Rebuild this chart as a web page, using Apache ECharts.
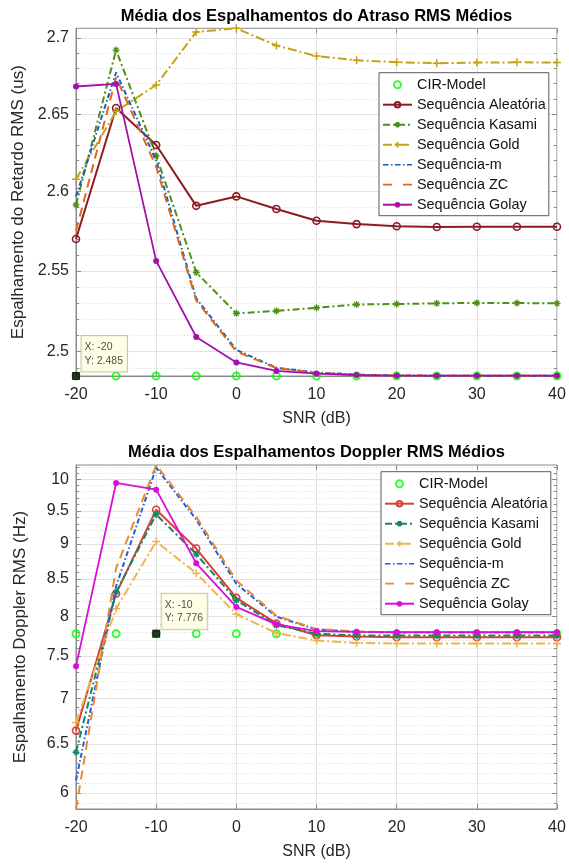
<!DOCTYPE html>
<html>
<head>
<meta charset="utf-8">
<script src="https://cdn.jsdelivr.net/npm/echarts@6/dist/echarts.min.js"></script>
<style>
  html, body { margin: 0; padding: 0; background: #fff; }
  #top { width: 569px; height: 432px; }
  #bottom { width: 569px; height: 433px; }
</style>
</head>
<body>
<div id="top"></div>
<div id="bottom"></div>
<script>
// SNR points shared by both panels
const snr = [-20, -15, -10, -5, 0, 5, 10, 15, 20, 25, 30, 35, 40];
const xTicks = [-20, -10, 0, 10, 20, 30, 40];

const seriesNames = ['CIR-Model', 'Sequência Aleatória', 'Sequência Kasami', 'Sequência Gold',
                     'Sequência-m', 'Sequência ZC', 'Sequência Golay'];

// Mean RMS delay spread (us)
const delayCir     = [2.485, 2.485, 2.485, 2.485, 2.485, 2.485, 2.485, 2.485, 2.485, 2.485, 2.485, 2.485, 2.485];
const delayAleat   = [2.570, 2.654, 2.630, 2.591, 2.597, 2.589, 2.5815, 2.5794, 2.578, 2.5776, 2.5777, 2.5777, 2.5777];
const delayKasami  = [2.5916, 2.692, 2.623, 2.549, 2.5235, 2.525, 2.527, 2.529, 2.5293, 2.5297, 2.530, 2.5299, 2.5297];
const delayGold    = [2.608, 2.6518, 2.669, 2.704, 2.7064, 2.695, 2.688, 2.6852, 2.684, 2.6833, 2.6837, 2.6839, 2.6837];
const delayM       = [2.597, 2.6772, 2.620, 2.5328, 2.501, 2.490, 2.4872, 2.4858, 2.4853, 2.4852, 2.4852, 2.4852, 2.4852];
const delayZC      = [2.575, 2.674, 2.616, 2.5315, 2.500, 2.4898, 2.487, 2.4856, 2.4852, 2.4852, 2.4852, 2.4852, 2.4852];
const delayGolay   = [2.668, 2.6697, 2.5562, 2.5089, 2.4933, 2.4881, 2.4865, 2.4856, 2.4852, 2.4852, 2.4852, 2.4852, 2.4852];
const delayTicks   = [2.5, 2.55, 2.6, 2.65, 2.7];

// Mean RMS Doppler spread (Hz)
const dopCir       = [7.776, 7.776, 7.776, 7.776, 7.776, 7.776, 7.776, 7.776, 7.776, 7.776, 7.776, 7.776, 7.776];
const dopAleat     = [6.641, 8.30, 9.515, 8.933, 8.243, 7.907, 7.757, 7.740, 7.732, 7.732, 7.732, 7.732, 7.732];
const dopKasami    = [6.411, 8.32, 9.443, 8.852, 8.211, 7.886, 7.776, 7.755, 7.752, 7.752, 7.752, 7.752, 7.752];
const dopGold      = [6.730, 8.10, 9.036, 8.581, 8.028, 7.784, 7.690, 7.660, 7.652, 7.652, 7.652, 7.652, 7.652];
const dopM         = [6.125, 8.40, 10.19, 9.367, 8.435, 7.994, 7.830, 7.800, 7.792, 7.792, 7.792, 7.792, 7.792];
const dopZC        = [5.845, 8.65, 10.235, 9.408, 8.480, 8.007, 7.835, 7.805, 7.795, 7.795, 7.795, 7.795, 7.795];
const dopGolay     = [7.376, 9.94, 9.832, 8.721, 8.123, 7.896, 7.810, 7.800, 7.795, 7.795, 7.795, 7.795, 7.795];
const dopTicks     = [6, 6.5, 7, 7.5, 8, 8.5, 9, 9.5, 10];

const FONT = '"Liberation Sans", Arial, Helvetica, sans-serif';
const AXIS_COLOR = '#8a8a8a';
const TEXT_COLOR = '#262626';

// marker shapes drawn as stroked paths
const STAR = 'path://M0 5L10 5M5 0L5 10M1.6 1.6L8.4 8.4M8.4 1.6L1.6 8.4';
const PLUS = 'path://M0 5L10 5M5 0L5 10';
// legend keys for the unmarked dashed lines (filled dash segments in a 29x7 box)
const KEY_BOX = 'M0 0h0.05v0.05h-0.05z M28.95 6.95h0.05v0.05h-0.05z ';
const KEY_DASHDOT = 'path://' + KEY_BOX + 'M0 2.7h5.5v1.6h-5.5z M8 2.7h1.6v1.6h-1.6z M12 2.7h5.5v1.6h-5.5z M20 2.7h1.6v1.6h-1.6z M24 2.7h5v1.6h-5z';
const KEY_DASH = 'path://' + KEY_BOX + 'M0 2.6h9v1.8h-9z M20 2.6h9v1.8h-9z';

function minorValues(major, step, lo, hi) {
  // dotted grid between the labelled ticks
  const out = [];
  const n = Math.round((hi - lo) / step);
  for (let i = 0; i <= n; i++) {
    const v = +(lo + i * step).toFixed(4);
    if (!major.some(m => Math.abs(m - v) < 1e-9)) out.push(v);
  }
  return out;
}

function buildPanel(el, p) {
  const chart = echarts.init(el, null, { renderer: 'canvas' });
  const allValues = [].concat(p.cir, ...p.lines.map(l => l.values));
  const yMin = Math.min(...allValues);
  const yMax = Math.max(...allValues);
  const minor = minorValues(p.yTicks, p.minorStep, p.minorLo, p.minorHi);

  const logBase = { type: 'log', logBase: 10, min: yMin, max: yMax, gridIndex: 0 };
  const tickLine = { color: AXIS_COLOR, width: 1 };
  const yAxis = [
    Object.assign({}, logBase, {
      position: 'left',
      name: p.yName, nameLocation: 'middle', nameGap: 47,
      nameTextStyle: { fontSize: 17, fontFamily: FONT, color: TEXT_COLOR },
      axisLine: { show: true, onZero: false, lineStyle: { color: AXIS_COLOR } },
      axisTick: { show: true, inside: true, length: 5, customValues: p.yTicks, lineStyle: tickLine },
      axisLabel: { show: true, customValues: p.yTicks, margin: 7, fontSize: 16, fontFamily: FONT,
                   color: TEXT_COLOR, formatter: v => String(+(+v).toFixed(2)) },
      splitLine: { show: true, lineStyle: { color: '#e2e2e2', width: 1 } }
    }),
    Object.assign({}, logBase, {
      position: 'left',
      axisLine: { show: false, onZero: false },
      axisTick: { show: true, inside: true, length: 3, customValues: minor, lineStyle: tickLine },
      axisLabel: { show: false, customValues: minor },
      splitLine: { show: true, lineStyle: { color: '#dcdcdc', width: 1, type: [1, 2] } }
    }),
    Object.assign({}, logBase, {
      position: 'right',
      axisLine: { show: false, onZero: false },
      axisTick: { show: true, inside: true, length: 5, customValues: p.yTicks, lineStyle: tickLine },
      axisLabel: { show: false, customValues: p.yTicks },
      splitLine: { show: false }
    }),
    Object.assign({}, logBase, {
      position: 'right',
      axisLine: { show: false, onZero: false },
      axisTick: { show: true, inside: true, length: 3, customValues: minor, lineStyle: tickLine },
      axisLabel: { show: false, customValues: minor },
      splitLine: { show: false }
    })
  ];

  const xAxis = [
    {
      type: 'value', gridIndex: 0, position: 'bottom', min: -20, max: 40, interval: 10,
      name: 'SNR (dB)', nameLocation: 'middle', nameGap: 35,
      nameTextStyle: { fontSize: 16, fontFamily: FONT, color: TEXT_COLOR },
      axisLine: { show: true, onZero: false, lineStyle: { color: AXIS_COLOR } },
      axisTick: { show: true, inside: true, length: 5, lineStyle: tickLine },
      axisLabel: { margin: 10.5, fontSize: 16, fontFamily: FONT, color: TEXT_COLOR,
                   customValues: xTicks },
      splitLine: { show: true, lineStyle: { color: '#e2e2e2', width: 1 } }
    },
    {
      type: 'value', gridIndex: 0, position: 'top', min: -20, max: 40, interval: 10,
      axisLine: { show: false, onZero: false },
      axisTick: { show: true, inside: true, length: 5, lineStyle: tickLine },
      axisLabel: { show: false },
      splitLine: { show: false }
    }
  ];

  const series = [{
    type: 'scatter', name: seriesNames[0],
    data: snr.map((x, i) => [x, p.cir[i]]),
    symbol: 'circle', symbolSize: 7,
    itemStyle: { color: 'rgba(255,255,255,0)', borderColor: '#00ff00', borderWidth: 2 },
    z: 2
  }];

  const legendData = [{ name: seriesNames[0] }];
  p.lines.forEach((l, k) => {
    series.push({
      type: 'line', name: seriesNames[k + 1],
      data: snr.map((x, i) => [x, l.values[i]]),
      symbol: l.symbol || 'none', symbolSize: l.symbolSize || 7, showSymbol: !!l.symbol,
      lineStyle: { color: l.color, width: l.width || 2, type: l.dash || 'solid' },
      itemStyle: l.itemStyle || { color: l.color },
      z: 3 + k
    });
    const entry = { name: seriesNames[k + 1] };
    if (l.key) {
      entry.icon = l.key;
      entry.itemStyle = { color: l.color, borderWidth: 0 };
    }
    legendData.push(entry);
  });

  // data tip on the reference model
  const tipY = p.cir[snr.indexOf(p.tipX)];
  series.push({
    type: 'scatter', name: 'Datatip',
    data: [[p.tipX, tipY]],
    symbol: 'rect', symbolSize: 8,
    itemStyle: { color: '#000' },
    z: 20,
    label: {
      show: true, position: [9.5, -36],
      formatter: 'X: ' + p.tipX + '\nY: ' + tipY,
      backgroundColor: '#ffffe1', borderColor: '#b9b9a6', borderWidth: 1,
      padding: [4, 4, 4, 3], fontSize: 10.5, lineHeight: 13.8,
      color: '#1a1a1a', fontFamily: FONT, align: 'left', verticalAlign: 'top'
    }
  });

  chart.setOption({
    animation: false,
    backgroundColor: '#fff',
    textStyle: { fontFamily: FONT },
    graphic: [{
      type: 'text', x: 316.5, y: p.titleY,
      style: { text: p.title, align: 'center', verticalAlign: 'middle',
               font: 'bold 16.5px ' + FONT, fill: '#000' }
    }],
    grid: [{
      left: 76, top: p.gridTop, width: 481, height: p.gridH,
      show: true, borderColor: AXIS_COLOR, borderWidth: 1, backgroundColor: '#fff'
    }],
    legend: {
      orient: 'vertical', left: p.legLeft, top: p.legTop,
      backgroundColor: '#fff', borderColor: '#5a5a5a', borderWidth: 1,
      padding: [4, 3, 3, 3], itemGap: 4, itemWidth: 29, itemHeight: 7,
      selectedMode: false,
      textStyle: { fontSize: 14.4, fontFamily: FONT, color: '#111', lineHeight: 16 },
      data: legendData
    },
    xAxis: xAxis,
    yAxis: yAxis,
    series: series
  });
  return chart;
}

buildPanel(document.getElementById('top'), {
  title: 'Média dos Espalhamentos do Atraso RMS Médios',
  titleY: 16,
  yName: 'Espalhamento do Retardo RMS (us)',
  gridTop: 28.3, gridH: 348.4,
  legLeft: 379, legTop: 72.7,
  yTicks: delayTicks, minorStep: 0.01, minorLo: 2.49, minorHi: 2.70,
  cir: delayCir, tipX: -20,
  lines: [
    { values: delayAleat, color: '#8e1b22', symbol: 'circle', symbolSize: 7,
      itemStyle: { color: 'rgba(255,255,255,0)', borderColor: '#8e1b22', borderWidth: 1.6 } },
    { values: delayKasami, color: '#4f8f17', dash: [7, 3, 2, 3], symbol: STAR, symbolSize: 7,
      itemStyle: { color: '#4f8f17', borderColor: '#4f8f17', borderWidth: 1.3 } },
    { values: delayGold, color: '#c6a216', dash: [9, 3, 2, 3], symbol: PLUS, symbolSize: 8,
      itemStyle: { color: '#c6a216', borderColor: '#c6a216', borderWidth: 1.5 } },
    { values: delayM, color: '#1a5fb4', dash: [5, 2.5, 1.5, 2.5], key: KEY_DASHDOT },
    { values: delayZC, color: '#dc6a1e', dash: [9, 6], key: KEY_DASH },
    { values: delayGolay, color: '#a312a8', symbol: 'circle', symbolSize: 6, width: 1.8 }
  ]
});

buildPanel(document.getElementById('bottom'), {
  title: 'Média dos Espalhamentos Doppler RMS Médios',
  titleY: 20.7,
  yName: 'Espalhamento Doppler RMS (Hz)',
  gridTop: 33, gridH: 347.5,
  legLeft: 381, legTop: 39.7,
  yTicks: dopTicks, minorStep: 0.1, minorLo: 5.9, minorHi: 10.2,
  cir: dopCir, tipX: -10,
  lines: [
    { values: dopAleat, color: '#d8413b', symbol: 'circle', symbolSize: 7,
      itemStyle: { color: 'rgba(255,255,255,0)', borderColor: '#d8413b', borderWidth: 1.6 } },
    { values: dopKasami, color: '#128a5e', dash: [7, 3, 2, 3], symbol: STAR, symbolSize: 7,
      itemStyle: { color: '#128a5e', borderColor: '#128a5e', borderWidth: 1.3 } },
    { values: dopGold, color: '#edb451', dash: [9, 3, 2, 3], symbol: PLUS, symbolSize: 8,
      itemStyle: { color: '#edb451', borderColor: '#edb451', borderWidth: 1.5 } },
    { values: dopM, color: '#1f5ee0', dash: [5, 2.5, 1.5, 2.5], key: KEY_DASHDOT },
    { values: dopZC, color: '#ee8a2c', dash: [9, 6], key: KEY_DASH },
    { values: dopGolay, color: '#d90fd9', symbol: 'circle', symbolSize: 6, width: 1.8 }
  ]
});
</script>
</body>
</html>
